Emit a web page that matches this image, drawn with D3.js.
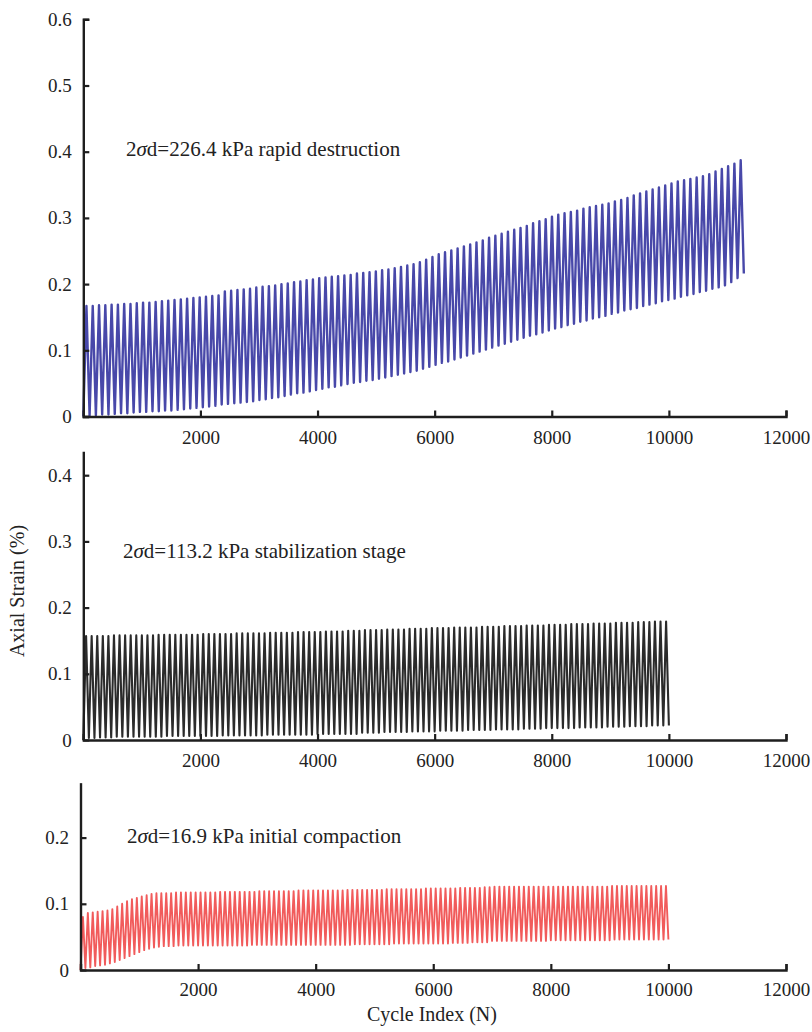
<!DOCTYPE html>
<html>
<head>
<meta charset="utf-8">
<script src="https://cdn.jsdelivr.net/npm/d3@7"></script>
<style>
  body { margin: 0; background: #fff; }
  text { font-family: "Liberation Serif", "Times New Roman", serif; fill: #222; }
</style>
</head>
<body>
<svg id="chart" width="812" height="1032"></svg>
<script>
// ---- data: axial strain (%) peaks and troughs for each loading cycle ----
const xTicks = [2000, 4000, 6000, 8000, 10000, 12000];

// 2σd = 226.4 kPa (rapid destruction)
const blueLabel = ["2", "σ", "d=226.4 kPa rapid destruction"];
const blueEndCycle = 11280;
const blueYTicks = [0, 0.1, 0.2, 0.3, 0.4, 0.5, 0.6];
const bluePeaks = [
  0.167,0.167,0.168,0.168,0.169,0.169,0.170,0.170,0.171,0.172,
  0.172,0.173,0.174,0.175,0.176,0.177,0.178,0.179,0.180,
  0.181,0.182,0.183,0.189,0.190,0.191,0.192,0.193,0.195,0.196,
  0.197,0.198,0.200,0.201,0.203,0.204,0.206,0.207,0.209,0.210,
  0.211,0.212,0.213,0.214,0.216,0.217,0.218,0.219,0.221,0.222,
  0.224,0.226,0.228,0.230,0.233,0.237,0.241,0.245,0.248,0.251,
  0.254,0.257,0.260,0.263,0.266,0.270,0.273,0.276,0.279,0.282,
  0.285,0.288,0.292,0.295,0.298,0.302,0.305,0.307,0.309,0.311,
  0.314,0.316,0.318,0.320,0.322,0.325,0.327,0.330,0.334,0.337,
  0.340,0.343,0.346,0.349,0.352,0.355,0.357,0.359,0.361,0.363,
  0.366,0.370,0.374,0.378,0.382,0.387
];
const blueTroughs = [
  0.000,0.001,0.002,0.003,0.003,0.004,0.005,0.005,0.006,0.007,
  0.007,0.008,0.008,0.009,0.009,0.010,0.011,0.012,0.013,0.014,
  0.015,0.016,0.018,0.019,0.020,0.021,0.022,0.023,0.025,0.026,
  0.028,0.029,0.031,0.033,0.035,0.036,0.038,0.040,0.042,0.044,
  0.045,0.047,0.049,0.051,0.052,0.054,0.055,0.057,0.059,0.061,
  0.063,0.065,0.067,0.069,0.072,0.075,0.078,0.081,0.083,0.086,
  0.089,0.092,0.095,0.098,0.101,0.104,0.107,0.110,0.113,0.116,
  0.119,0.122,0.124,0.127,0.130,0.133,0.135,0.138,0.140,0.143,
  0.145,0.148,0.150,0.152,0.155,0.157,0.160,0.162,0.164,0.167,
  0.169,0.171,0.174,0.176,0.178,0.181,0.183,0.185,0.188,0.190,
  0.193,0.195,0.198,0.203,0.209,0.216
];

// 2σd = 113.2 kPa (stabilization stage)
const blackLabel = ["2", "σ", "d=113.2 kPa stabilization stage"];
const blackEndCycle = 10000;
const blackYTicks = [0, 0.1, 0.2, 0.3, 0.4];
const blackPeaks = [
  0.157,0.157,0.157,0.157,0.157,0.158,0.158,0.158,0.158,0.158,0.158,0.158,0.158,0.159,0.159,0.159,0.159,0.159,0.159,0.159,0.159,
  0.160,0.160,0.160,0.160,0.160,0.160,0.161,0.161,0.161,0.161,0.161,0.161,0.162,0.162,0.162,0.162,0.162,0.163,0.163,0.163,0.163,
  0.163,0.164,0.164,0.164,0.164,0.165,0.165,0.165,0.166,0.166,0.166,0.166,0.167,0.167,0.167,0.167,0.168,0.168,0.168,0.168,0.169,
  0.169,0.169,0.169,0.170,0.170,0.170,0.170,0.170,0.171,0.171,0.171,0.171,0.172,0.172,0.172,0.172,0.173,0.173,0.173,0.173,0.174,
  0.174,0.174,0.174,0.175,0.175,0.175,0.175,0.176,0.176,0.176,0.176,0.177,0.177,0.177,0.177,0.178,0.178,0.178,0.179,0.179,0.179
];
const blackTroughs = [
  0.000,0.003,0.003,0.004,0.004,0.004,0.005,0.005,0.005,0.005,0.005,0.005,0.005,0.005,0.005,0.006,0.006,0.006,0.006,0.006,0.006,
  0.006,0.006,0.006,0.006,0.007,0.007,0.007,0.007,0.007,0.007,0.007,0.007,0.008,0.008,0.008,0.008,0.008,0.008,0.008,0.008,0.008,
  0.009,0.009,0.009,0.009,0.009,0.009,0.009,0.009,0.011,0.011,0.011,0.011,0.012,0.012,0.012,0.012,0.012,0.013,0.013,0.013,0.013,
  0.013,0.014,0.014,0.014,0.014,0.014,0.015,0.015,0.015,0.015,0.015,0.016,0.016,0.016,0.016,0.016,0.017,0.017,0.017,0.017,0.018,
  0.018,0.018,0.018,0.018,0.018,0.019,0.019,0.019,0.019,0.019,0.020,0.020,0.020,0.020,0.021,0.021,0.021,0.021,0.022,0.022,0.022,0.022
];

// 2σd = 16.9 kPa (initial compaction)
const redLabel = ["2", "σ", "d=16.9 kPa initial compaction"];
const redEndCycle = 10000;
const redYTicks = [0, 0.1, 0.2];
const redPeaks = [
  0.080,0.086,0.087,0.088,0.089,0.090,0.092,0.096,0.100,0.104,0.107,0.109,0.111,0.113,0.115,0.116,
  0.116,0.116,0.116,0.117,0.117,0.117,0.117,0.117,
  0.117,0.117,0.117,0.117,0.118,0.118,0.118,0.118,0.118,0.118,0.118,0.118,0.119,0.119,0.119,0.119,0.119,0.119,0.119,0.119,0.120,0.120,0.120,0.120,
  0.120,0.120,0.120,0.120,0.120,0.120,0.121,0.121,0.121,0.121,0.121,0.121,0.121,0.121,0.122,0.122,0.122,0.122,0.122,0.122,0.122,0.122,0.123,0.123,
  0.123,0.123,0.123,0.123,0.123,0.124,0.124,0.124,0.124,0.124,0.125,0.125,
  0.126,0.126,0.126,0.126,0.126,0.126,0.126,0.126,0.126,0.126,0.126,0.126,
  0.126,0.126,0.126,0.126,0.126,0.126,0.126,0.126,0.126,0.126,0.126,0.126,
  0.127,0.127,0.127,0.127,0.127,0.127,0.127,0.127,0.127,0.127,0.127,0.127
];
const redTroughs = [
  0.000,0.003,0.004,0.006,0.007,0.008,0.010,0.012,0.015,0.018,0.021,0.024,0.027,0.030,0.032,0.034,0.035,0.036,0.036,0.036,0.037,
  0.037,0.037,0.037,0.037,0.037,0.037,0.037,0.037,0.037,0.037,0.037,0.037,0.037,0.037,
  0.038,0.038,0.038,0.038,0.038,0.038,0.038,0.038,0.038,0.038,0.038,0.038,0.038,
  0.038,0.038,0.038,0.038,0.038,0.038,0.038,0.038,0.039,0.039,0.039,0.039,0.039,0.039,0.039,0.039,0.040,0.040,0.040,0.040,0.040,0.040,0.040,0.040,
  0.040,0.040,0.040,0.040,0.041,0.041,0.041,0.041,0.042,0.042,0.042,0.042,
  0.044,0.044,0.044,0.044,0.044,0.044,0.044,0.044,0.044,0.044,0.044,0.044,
  0.045,0.045,0.045,0.045,0.045,0.045,0.045,0.045,0.045,0.045,0.045,0.045,0.045,
  0.046,0.046,0.046,0.046,0.046,0.046,0.046,0.046,0.046,0.046,0.046,0.046
];

// ---- layout ----
const svg = d3.select("#chart");
const FONT_TICK = 19;

const panels = [
  { peaks: bluePeaks, troughs: blueTroughs, end: blueEndCycle, yTicks: blueYTicks, label: blueLabel,
    color: "#3434a0", width: 2.4, opacity: 0.9, xLeft: 83.3, xRight: 786, yBottom: 416.5, yMax: 0.6, topHook: true,
    labelX: 126, labelY: 156, tickPad: 14.5 },
  { peaks: blackPeaks, troughs: blackTroughs, end: blackEndCycle, yTicks: blackYTicks, label: blackLabel,
    color: "#141414", width: 2.1, opacity: 0.9, xLeft: 83.3, xRight: 786, yBottom: 740, yMax: 0.436, topHook: false,
    labelX: 123, labelY: 558, tickPad: 13.5 },
  { peaks: redPeaks, troughs: redTroughs, end: redEndCycle, yTicks: redYTicks, label: redLabel,
    color: "#ef3e3e", width: 1.9, opacity: 0.85, xLeft: 80.5, xRight: 786, yBottom: 970, yMax: 0.283, topHook: false,
    labelX: 127, labelY: 843, tickPad: 12.5 }
];

const pxPerUnit = 662;

panels.forEach(p => {
  const x = d3.scaleLinear().domain([0, 12000]).range([p.xLeft, p.xRight]);
  const y = d3.scaleLinear().domain([0, p.yMax]).range([p.yBottom, p.yBottom - p.yMax * pxPerUnit]);

  // alternating trough / peak points of the cyclic loading record
  const n = p.peaks.length;
  const period = p.end / n;
  const pts = [];
  for (let i = 0; i <= n; i++) {
    pts.push([i * period, p.troughs[i]]);
    if (i < n) pts.push([(i + 0.5) * period, p.peaks[i]]);
  }
  const line = d3.line().x(d => x(d[0])).y(d => y(d[1]));

  svg.append("path")
    .attr("d", line(pts))
    .attr("fill", "none")
    .attr("stroke", p.color)
    .attr("stroke-width", p.width)
    .attr("stroke-linejoin", "round")
    .attr("stroke-opacity", p.opacity);

  // x axis (ticks pointing inward)
  const gx = svg.append("g")
    .attr("transform", `translate(0,${p.yBottom})`)
    .call(d3.axisBottom(x).tickValues(xTicks).tickFormat(d3.format("d"))
      .tickSizeInner(-6).tickSizeOuter(-6).tickPadding(p.tickPad));

  // y axis
  const gy = svg.append("g")
    .attr("transform", `translate(${p.xLeft},0)`)
    .call(d3.axisLeft(y).tickValues(p.yTicks)
      .tickFormat(d => d === 0 ? "0" : d.toFixed(1))
      .tickSizeInner(-6).tickSizeOuter(p.topHook ? -6 : 0).tickPadding(11.5));

  [gx, gy].forEach(g => {
    g.select(".domain").attr("stroke", "#1e1e1e").attr("stroke-width", 2.4);
    g.selectAll(".tick line").attr("stroke", "#1e1e1e").attr("stroke-width", 2.2);
    g.selectAll(".tick text")
      .style("font-family", "'Liberation Serif', serif")
      .style("font-size", FONT_TICK + "px")
      .attr("fill", "#222");
  });

  // stress level annotation
  const t = svg.append("text")
    .attr("x", p.labelX).attr("y", p.labelY)
    .style("font-size", "21px");
  t.append("tspan").text(p.label[0]);
  t.append("tspan").style("font-style", "italic").text(p.label[1]);
  t.append("tspan").text(p.label[2]);
});

// axis titles
svg.append("text")
  .attr("transform", "translate(24,591) rotate(-90)")
  .attr("text-anchor", "middle")
  .style("font-size", "20px")
  .text("Axial Strain (%)");

svg.append("text")
  .attr("x", 432).attr("y", 1021)
  .attr("text-anchor", "middle")
  .style("font-size", "20px")
  .text("Cycle Index (N)");
</script>
</body>
</html>
